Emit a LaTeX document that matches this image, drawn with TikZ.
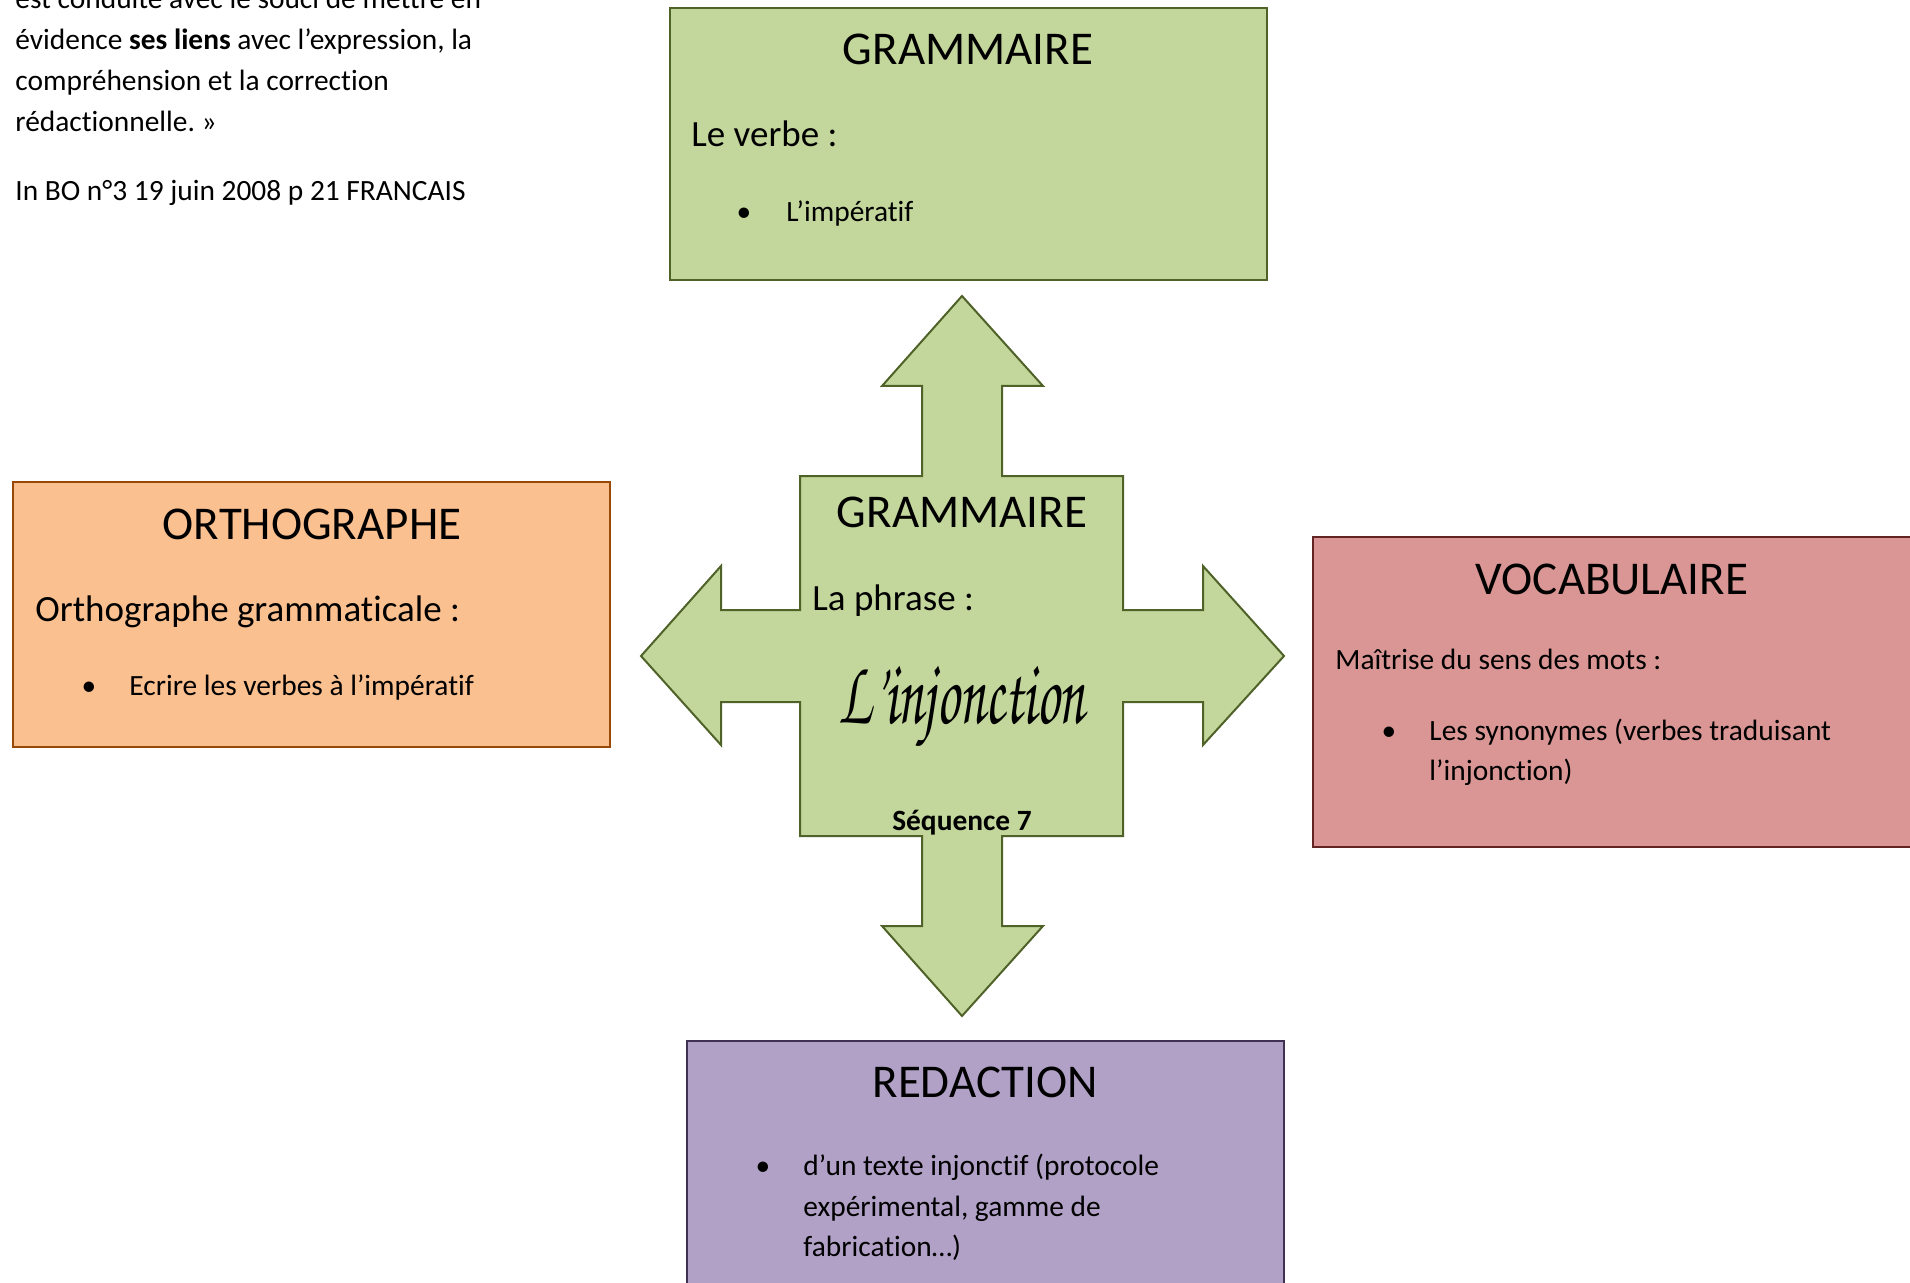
\documentclass[tikz,border=0pt]{standalone}
\usepackage{fontspec}
\setmainfont{Carlito}[Ligatures={NoCommon}]
\usepackage{graphicx}
\frenchspacing
\definecolor{gfill}{HTML}{C3D69B}
\definecolor{gline}{HTML}{4F6228}
\definecolor{ofill}{HTML}{FAC090}
\definecolor{oline}{HTML}{984807}
\definecolor{rfill}{HTML}{D99694}
\definecolor{rline}{HTML}{632523}
\definecolor{pfill}{HTML}{B2A1C7}
\definecolor{pline}{HTML}{3F3151}
\tikzset{
  boxline/.style={line width=1pt},
  ttl/.style={font=\fontsize{23.5}{28}\selectfont, inner sep=0pt, anchor=base},
  subt/.style={font=\fontsize{18.5}{22}\selectfont, inner sep=0pt, anchor=base west},
  bodyt/.style={font=\fontsize{14.7}{20.5}\selectfont, inner sep=0pt, anchor=base west},
  bul/.style={font=\fontsize{14.7}{20.5}\selectfont, inner sep=0pt, anchor=base},
}
\begin{document}
\begin{tikzpicture}[x=0.5pt,y=-0.5pt]
\useasboundingbox (0,0) rectangle (1910,1283);

% left quotation text
\node[bodyt] (q0) at (15,9) {est conduite avec le souci de mettre en};
\node[bodyt] (q1) at (15,50) {évidence \textbf{ses liens} avec l’expression, la};
\node[bodyt] (q2) at (15,91) {compréhension et la correction};
\node[bodyt] (q3) at (15,132) {rédactionnelle. »};
\node[bodyt] (q4) at (15,201) {In BO n°3 19 juin 2008 p 21 FRANCAIS};

% top box : grammaire (verbe)
\filldraw[boxline, fill=gfill, draw=gline] (670,8) rectangle (1267,280);
\node[ttl] (gt) at (968,65) {GRAMMAIRE};
\node[subt] (gs) at (691,147) {Le verbe :};
\node[bul] (gb) at (744,222) {•};
\node[bodyt] (gi) at (786,222) {L’impératif};

% central cross
\filldraw[boxline, fill=gfill, draw=gline]
  (962,296) -- (1043,386) -- (1002,386) -- (1002,476) -- (1123,476) -- (1123,610)
  -- (1203,610) -- (1203,566) -- (1284,656) -- (1203,745) -- (1203,702) -- (1123,702)
  -- (1123,836) -- (1002,836) -- (1002,926) -- (1043,926) -- (962,1016) -- (882,926)
  -- (922,926) -- (922,836) -- (800,836) -- (800,702) -- (721,702) -- (721,745)
  -- (641,656) -- (721,566) -- (721,610) -- (800,610) -- (800,476) -- (922,476)
  -- (922,386) -- (882,386) -- cycle;
\node[ttl] (ct) at (962,527) {GRAMMAIRE};
\node[subt] (cs) at (812,610) {La phrase :};
\node[inner sep=0pt] (cinj) at (962,708)
  {\resizebox*{123pt}{44pt}{\usefont{OT1}{pzc}{mb}{it}L'injonction}};
\begin{scope}
  \clip (800,476) rectangle (1123,836);
  \node[bul, font=\fontsize{14.7}{20.5}\selectfont\bfseries] (cseq) at (962,830) {Séquence 7};
\end{scope}

% orthographe
\filldraw[boxline, fill=ofill, draw=oline] (13,482) rectangle (610,747);
\node[ttl] (ot) at (312,539) {ORTHOGRAPHE};
\node[subt] (os) at (35,621) {Orthographe grammaticale :};
\node[bul] (ob) at (89,695) {•};
\node[bodyt] (oi) at (129,695) {Ecrire les verbes à l’impératif};

% vocabulaire
\filldraw[boxline, fill=rfill, draw=rline] (1313,537) rectangle (1916,847);
\node[ttl] (vt) at (1612,594) {VOCABULAIRE};
\node[bodyt] (vs) at (1335,669) {Maîtrise du sens des mots :};
\node[bul] (vb) at (1389,740) {•};
\node[bodyt] (vi1) at (1429,740) {Les synonymes (verbes traduisant};
\node[bodyt] (vi2) at (1429,780) {l’injonction)};

% redaction
\filldraw[boxline, fill=pfill, draw=pline] (687,1041) rectangle (1284,1290);
\node[ttl] (rt) at (985,1097) {REDACTION};
\node[bul] (rb) at (763,1175) {•};
\node[bodyt] (ri1) at (803,1175) {d’un texte injonctif (protocole};
\node[bodyt] (ri2) at (803,1216) {expérimental, gamme de};
\node[bodyt] (ri3) at (803,1256) {fabrication…)};
\end{tikzpicture}
\end{document}
